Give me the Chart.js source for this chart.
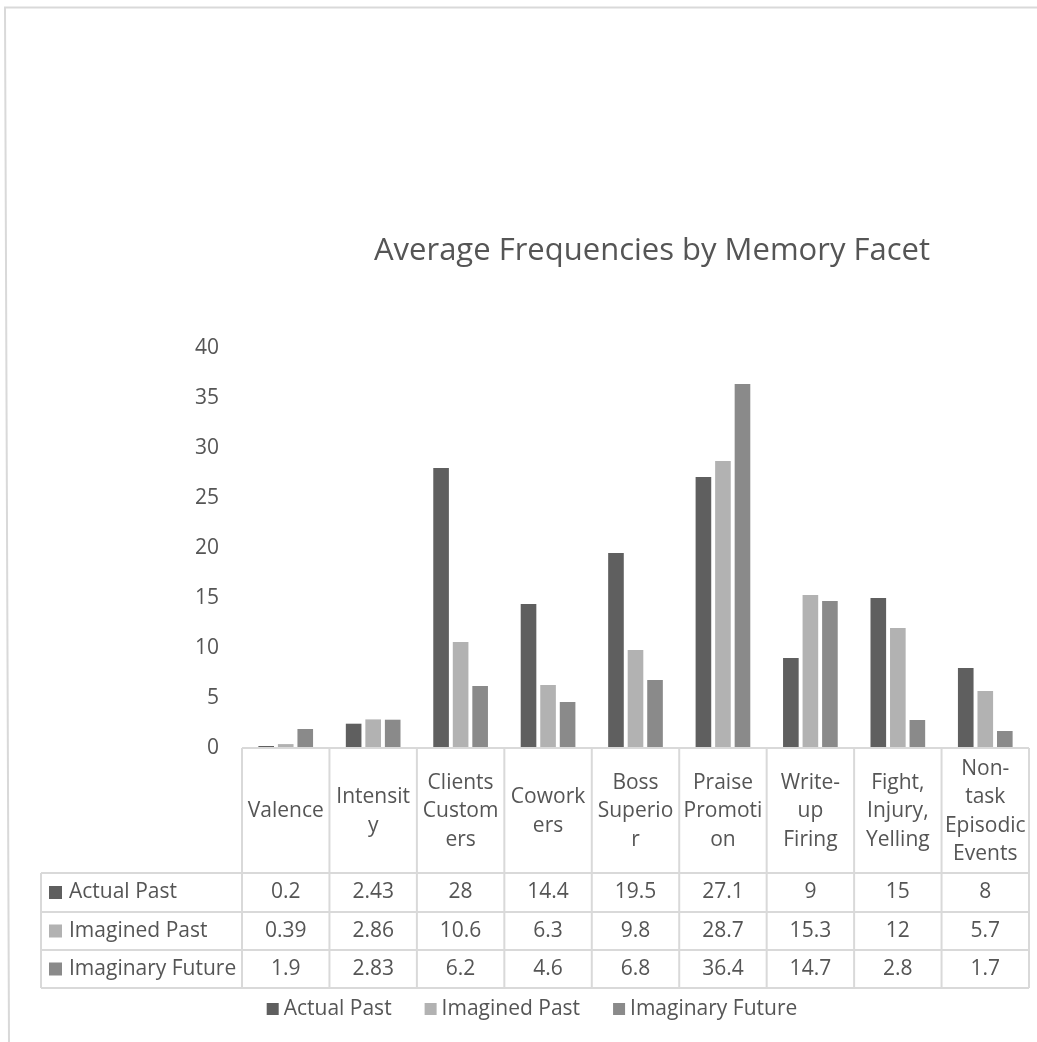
<!DOCTYPE html>
<html>
<head>
<meta charset="utf-8">
<title>Average Frequencies by Memory Facet</title>
<script src="https://cdn.jsdelivr.net/npm/chart.js@4.4.1/dist/chart.umd.min.js"></script>
<style>
  html, body { margin: 0; padding: 0; background: #ffffff; }
  canvas { display: block; }
</style>
</head>
<body>
<canvas id="chart" width="1037" height="1042"></canvas>
<script>
// Category header labels, wrapped the way the data table shows them
const categoryLines = [
  ['Valence'],
  ['Intensit', 'y'],
  ['Clients', 'Custom', 'ers'],
  ['Cowork', 'ers'],
  ['Boss', 'Superio', 'r'],
  ['Praise', 'Promoti', 'on'],
  ['Write-', 'up', 'Firing'],
  ['Fight,', 'Injury,', 'Yelling'],
  ['Non-', 'task', 'Episodic', 'Events']
];

const seriesNames = ['Actual Past', 'Imagined Past', 'Imaginary Future'];
const actualPast      = [0.2, 2.43, 28, 14.4, 19.5, 27.1, 9, 15, 8];
const imaginedPast    = [0.39, 2.86, 10.6, 6.3, 9.8, 28.7, 15.3, 12, 5.7];
const imaginaryFuture = [1.9, 2.83, 6.2, 4.6, 6.8, 36.4, 14.7, 2.8, 1.7];
const yTicks = [0, 5, 10, 15, 20, 25, 30, 35, 40];

const chartTitle = 'Average Frequencies by Memory Facet';
const seriesColors = ['#5f5f5f', '#b2b2b2', '#8a8a8a'];
const textColor = '#555555';
const lineColor = '#d9d9d9';
const FONT = '"Open Sans", "Liberation Sans", sans-serif';

// Outer frame, title, data table and legend drawn around the plot area
const decorations = {
  id: 'decorations',
  afterDraw(chart) {
    const ctx = chart.ctx;
    const xs = chart.scales.x;
    const area = chart.chartArea;
    const n = chart.data.labels.length;
    const colW = (area.right - area.left) / n;
    const tableTop = area.bottom;
    const headerBottom = 873;
    const rowEdges = [873, 912, 950, 988];
    const labelLeft = 41;

    ctx.save();

    // frame
    ctx.strokeStyle = lineColor;
    ctx.lineWidth = 2;
    ctx.beginPath();
    ctx.moveTo(4, 7.5); ctx.lineTo(1037, 7.5);
    ctx.moveTo(5, 7.5); ctx.lineTo(9, 1042);
    ctx.stroke();

    // title
    ctx.fillStyle = textColor;
    ctx.font = '31px ' + FONT;
    ctx.textAlign = 'center';
    ctx.textBaseline = 'middle';
    ctx.fillText(chartTitle, 652, 251);

    // table grid
    ctx.strokeStyle = lineColor;
    ctx.lineWidth = 2;
    ctx.beginPath();
    ctx.moveTo(area.left, tableTop); ctx.lineTo(area.right, tableTop);
    for (let i = 0; i <= n; i++) {
      const x = area.left + i * colW;
      ctx.moveTo(x, tableTop); ctx.lineTo(x, rowEdges[rowEdges.length - 1]);
    }
    rowEdges.forEach(y => { ctx.moveTo(labelLeft, y); ctx.lineTo(area.right, y); });
    ctx.moveTo(labelLeft, headerBottom); ctx.lineTo(labelLeft, rowEdges[rowEdges.length - 1]);
    ctx.stroke();

    // header text
    ctx.font = '21px ' + FONT;
    ctx.fillStyle = textColor;
    ctx.textAlign = 'center';
    ctx.textBaseline = 'middle';
    const lineH = 28.5;
    const headerMid = (tableTop + headerBottom) / 2 + 1;
    chart.data.labels.forEach((lines, i) => {
      const cx = xs.getPixelForValue(i);
      const y0 = headerMid - (lines.length - 1) * lineH / 2;
      lines.forEach((t, k) => ctx.fillText(t, cx, y0 + k * lineH));
    });

    // value rows
    chart.data.datasets.forEach((ds, r) => {
      const cy = (rowEdges[r] + rowEdges[r + 1]) / 2;
      ctx.fillStyle = ds.backgroundColor;
      ctx.fillRect(labelLeft + 8, cy - 6.5, 13, 13);
      ctx.fillStyle = textColor;
      ctx.textAlign = 'left';
      ctx.fillText(ds.label, labelLeft + 28, cy);
      ctx.textAlign = 'center';
      ds.data.forEach((v, i) => ctx.fillText(String(v), xs.getPixelForValue(i), cy));
    });

    // legend
    const legendY = 1009;
    const sq = 12, sqGap = 5, itemGap = 33;
    const widths = chart.data.datasets.map(ds => ctx.measureText(ds.label).width);
    const total = widths.reduce((a, w) => a + sq + sqGap + w, 0) + itemGap * (widths.length - 1);
    let x = 532 - total / 2;
    ctx.textAlign = 'left';
    chart.data.datasets.forEach((ds, i) => {
      ctx.fillStyle = ds.backgroundColor;
      ctx.fillRect(x, legendY - sq / 2, sq, sq);
      ctx.fillStyle = textColor;
      ctx.fillText(ds.label, x + sq + sqGap, legendY);
      x += sq + sqGap + widths[i] + itemGap;
    });

    ctx.restore();
  }
};

const seriesData = [actualPast, imaginedPast, imaginaryFuture];

new Chart(document.getElementById('chart'), {
  type: 'bar',
  data: {
    labels: categoryLines,
    datasets: seriesNames.map((name, i) => ({
      label: name,
      data: seriesData[i],
      backgroundColor: seriesColors[i],
      borderWidth: 0,
      categoryPercentage: 0.67,
      barPercentage: 0.8
    }))
  },
  options: {
    responsive: false,
    devicePixelRatio: 1,
    animation: false,
    events: [],
    layout: { padding: { top: 348, bottom: 294, left: 0, right: 8 } },
    plugins: {
      legend: { display: false },
      title: { display: false },
      tooltip: { enabled: false }
    },
    scales: {
      x: {
        display: false,
        offset: true,
        grid: { display: false }
      },
      y: {
        min: yTicks[0],
        max: yTicks[yTicks.length - 1],
        afterFit(scale) { scale.width = 242; },
        afterBuildTicks(scale) { scale.ticks = yTicks.map(v => ({ value: v })); },
        grid: { display: false, drawTicks: false },
        border: { display: false },
        ticks: {
          padding: 23,
          color: textColor,
          font: { family: FONT, size: 21 }
        }
      }
    }
  },
  plugins: [decorations]
});
</script>
</body>
</html>
